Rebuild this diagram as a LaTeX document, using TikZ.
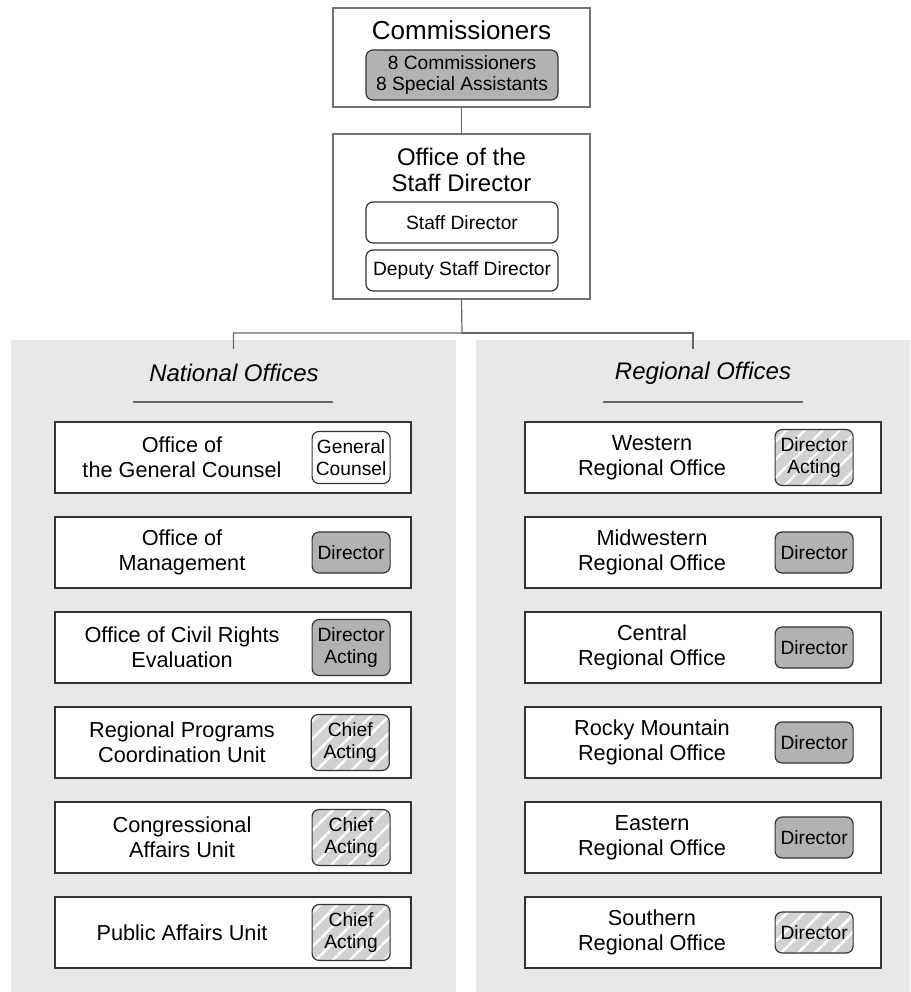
\documentclass[tikz,border=0pt]{standalone}
\usepackage{fontspec}
\setmainfont{Liberation Sans}
\usetikzlibrary{positioning,patterns.meta}
\begin{document}
\begin{tikzpicture}
[x=1pt,y=-1pt,
 linkstyle/.style={draw=black!60,line width=1.2pt},
 rulestyle/.style={draw=black!60,line width=1.2pt},
 panelstyle/.style={fill=black!9,inner sep=0pt},
 topbox/.style={draw=black!55,line width=1.2pt,fill=white,minimum width=257pt,inner sep=0pt},
 innerbox/.style={draw=black!80,line width=1.2pt,rounded corners=7pt,minimum width=192pt,minimum height=41pt,align=center,font=\fontsize{19.2}{21}\selectfont},
 unitbox/.style={draw=black!80,line width=1.4pt,fill=white,minimum width=356pt,minimum height=71pt,inner sep=0pt},
 unittext/.style={align=center,font=\fontsize{21.7}{25}\selectfont},
 headbox/.style={draw=black!80,line width=1.2pt,rounded corners=7pt,minimum width=78pt,minimum height=41pt,inner xsep=2pt,inner ysep=8pt,align=center,font=\fontsize{19.2}{22}\selectfont},
 headplain/.style={fill=white},
 headsolid/.style={fill=black!30},
 headhatch/.style={preaction={fill=black!18},pattern={Lines[angle=45,distance=13pt,line width=3pt]},pattern color=white},
 grouptitle/.style={font=\fontsize{24}{26}\selectfont\itshape}]
\useasboundingbox (0,0) rectangle (910,992);
%% commissioners
\node[topbox,minimum height=99pt] (comm) at (461.5,57.5) {};
\node[font=\fontsize{26}{28}\selectfont] (commtitle) at (461.5,30) {Commissioners};
\node[innerbox,fill=black!30,minimum height=50pt] (commstaff) at (462,75) {8 Commissioners\\8 Special Assistants};
%% office of the staff director
\node[topbox,minimum height=165pt] (staff) at (461.5,216.5) {};
\node[align=center,font=\fontsize{24}{26}\selectfont] (stafftitle) at (461.5,169.5) {Office of the\\Staff Director};
\node[innerbox,fill=white] (director) at (462,222.5) {Staff Director};
\node[innerbox,fill=white] (deputy) at (462,270.5) {Deputy Staff Director};
%% grey panels
\node[panelstyle,minimum width=445pt,minimum height=652pt] (natpanel) at (233.5,666) {};
\node[panelstyle,minimum width=434pt,minimum height=652pt] (regpanel) at (693,666) {};
%% connectors
\coordinate (fork) at (462,333);
\draw[linkstyle] (comm) -- (staff);
\draw[linkstyle] (staff.south) -- (fork) -| ([yshift=-9pt]natpanel.north);
\draw[linkstyle] (fork) -| ([yshift=-9pt]regpanel.north);
%% group titles
\node[grouptitle] (nattitle) at (234,373) {National Offices};
\draw[rulestyle] (133,402) -- (333,402);
\node[grouptitle] (regtitle) at (703,373) {Regional Offices};
\draw[rulestyle] (603,402) -- (803,402);
%% national offices
\foreach \i/\lbl/\head/\kind in {
  1/{Office of\\the General Counsel}/{General\\Counsel}/headplain,
  2/{Office of\\Management}/{Director}/headsolid,
  3/{Office of Civil Rights\\Evaluation}/{Director\\Acting}/headsolid,
  4/{Regional Programs\\Coordination Unit}/{Chief\\Acting}/headhatch,
  5/{Congressional\\Affairs Unit}/{Chief\\Acting}/headhatch,
  6/{Public Affairs Unit}/{Chief\\Acting}/headhatch}
{
  \node[unitbox] (nat\i) at (233,{457.5+95*(\i-1)}) {};
  \node[unittext] (nattext\i) at ([xshift=-51pt]nat\i.center) {\lbl};
  \node[headbox,\kind,left=21pt of nat\i.east] (natlead\i) {\head};
}
%% regional offices
\foreach \i/\lbl/\head/\kind in {
  1/{Western\\Regional Office}/{Director\\Acting}/headhatch,
  2/{Midwestern\\Regional Office}/{Director}/headsolid,
  3/{Central\\Regional Office}/{Director}/headsolid,
  4/{Rocky Mountain\\Regional Office}/{Director}/headsolid,
  5/{Eastern\\Regional Office}/{Director}/headsolid,
  6/{Southern\\Regional Office}/{Director}/headhatch}
{
  \node[unitbox] (reg\i) at (703,{457.5+95*(\i-1)}) {};
  \node[unittext] (regtext\i) at ([xshift=-51pt]reg\i.center) {\lbl};
  \node[headbox,\kind,left=28pt of reg\i.east] (reglead\i) {\head};
}
\end{tikzpicture}
\end{document}
